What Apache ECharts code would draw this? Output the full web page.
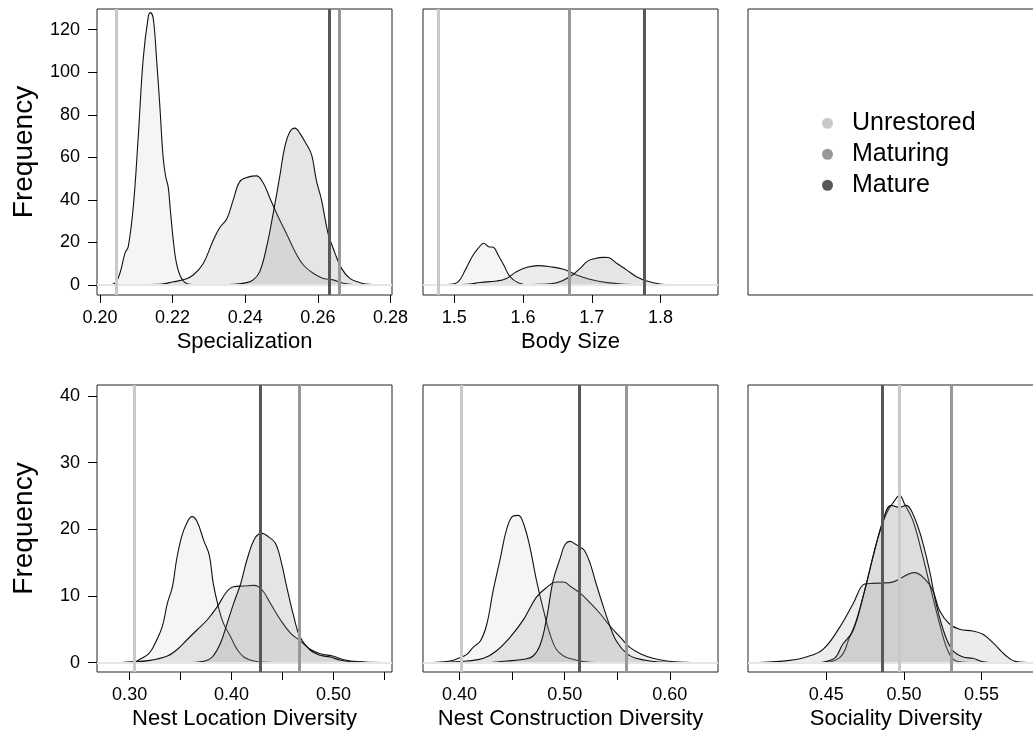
<!DOCTYPE html>
<html><head><meta charset="utf-8">
<script src="https://cdn.jsdelivr.net/npm/echarts@6/dist/echarts.min.js"></script>
<style>html,body{margin:0;padding:0;background:#fff}#c{width:1033px;height:738px}</style>
</head><body><div id="c"></div><script>
// ---------- data ----------
const groups = ['Unrestored', 'Maturing', 'Mature'];

// Specialization
const specUnrestored = [[0.2020,0],[0.2041,0.8],[0.2055,5.5],[0.2069,15],[0.2078,18],[0.2092,37],[0.2106,71],[0.2119,106],[0.2133,126],[0.2139,128],[0.2147,125],[0.2156,106],[0.2165,84],[0.2174,60],[0.2181,51],[0.2188,46],[0.2194,35],[0.2202,21],[0.2211,10],[0.2225,3],[0.2243,0.5],[0.2275,0.1],[0.2320,0],[0.2775,0]];
const specMaturing = [[0.2020,0],[0.2165,0.3],[0.2202,1.5],[0.2234,2.7],[0.2257,4.7],[0.2284,10],[0.2312,21],[0.2330,27],[0.2349,31],[0.2367,40],[0.2385,48.6],[0.2408,50.7],[0.2431,51.3],[0.2450,47.8],[0.2468,40.8],[0.2491,32],[0.2514,24],[0.2537,15.7],[0.2560,9.4],[0.2587,5.5],[0.2615,3.1],[0.2642,2.4],[0.2670,0.8],[0.2697,0.2],[0.2775,0]];
const specMature = [[0.2020,0],[0.2312,0],[0.2367,0.3],[0.2404,1.1],[0.2422,2.4],[0.2440,6.3],[0.2459,18],[0.2477,33.7],[0.2495,51],[0.2509,65],[0.2523,72],[0.2537,73.7],[0.2550,71.4],[0.2569,66],[0.2583,61],[0.2596,49],[0.2610,40],[0.2628,24.3],[0.2647,15],[0.2665,7.8],[0.2688,3.1],[0.2716,1.1],[0.2743,0.3],[0.2775,0]];
const specObserved = [0.2046, 0.2658, 0.2632];

// Body Size
const bodyUnrestored = [[1.470,0],[1.494,0.3],[1.506,1.6],[1.516,7],[1.526,13.3],[1.535,17.3],[1.543,19.6],[1.550,18],[1.557,17.7],[1.564,14],[1.572,9.4],[1.581,3.9],[1.593,1.1],[1.610,0],[1.867,0]];
const bodyMaturing = [[1.470,0],[1.518,0.3],[1.538,1.2],[1.562,1.9],[1.576,3.1],[1.591,6.3],[1.606,8.3],[1.622,9.1],[1.639,8.6],[1.659,7.4],[1.678,4.7],[1.697,2.7],[1.722,1.1],[1.751,0.3],[1.780,0],[1.867,0]];
const bodyMature = [[1.470,0],[1.567,0],[1.625,0.3],[1.649,1.1],[1.668,3.9],[1.683,7.8],[1.693,11],[1.702,12.2],[1.717,13],[1.724,12.9],[1.736,10.2],[1.751,7],[1.765,3.9],[1.780,1.9],[1.799,0.5],[1.818,0.1],[1.867,0]];
const bodyObserved = [1.4773, 1.667, 1.7758];

// Nest Location Diversity
const nlUnrestored = [[0.278,0],[0.304,0.1],[0.311,0.6],[0.319,1.4],[0.325,2.9],[0.332,5.4],[0.337,8.9],[0.342,11.4],[0.346,15.4],[0.351,18.9],[0.356,20.9],[0.361,21.9],[0.366,21.2],[0.373,18.2],[0.378,16.2],[0.382,11.9],[0.387,8.4],[0.392,5.9],[0.399,3.9],[0.405,2.1],[0.412,0.85],[0.422,0.25],[0.435,0.05],[0.450,0],[0.548,0]];
const nlMaturing = [[0.278,0],[0.301,0.1],[0.320,0.35],[0.337,1],[0.346,1.9],[0.356,3.4],[0.366,4.9],[0.376,6.4],[0.386,8.4],[0.395,10.6],[0.402,11.4],[0.412,11.5],[0.422,11.6],[0.430,10.9],[0.438,8.9],[0.448,6.4],[0.458,4.4],[0.467,3.3],[0.477,2],[0.487,1.35],[0.500,0.95],[0.510,0.45],[0.523,0.15],[0.548,0]];
const nlMature = [[0.278,0],[0.356,0],[0.373,0.2],[0.381,0.85],[0.389,2.9],[0.395,5.6],[0.402,8.9],[0.409,11.9],[0.415,15.4],[0.423,18.7],[0.430,19.4],[0.436,18.9],[0.443,17.9],[0.449,14.9],[0.454,11.4],[0.461,6.9],[0.467,3.9],[0.477,1.9],[0.487,1.1],[0.497,0.85],[0.507,0.35],[0.520,0.1],[0.548,0]];
const nlObserved = [0.3049, 0.4663, 0.4277];

// Nest Construction Diversity
const ncUnrestored = [[0.375,0],[0.391,0.25],[0.399,0.65],[0.407,1.25],[0.413,2.3],[0.420,3.3],[0.426,5.8],[0.432,10.8],[0.439,15.8],[0.445,20.1],[0.451,22],[0.456,22.1],[0.461,20.8],[0.467,17.3],[0.473,12.5],[0.480,7.8],[0.486,4.3],[0.492,2],[0.499,1],[0.508,0.5],[0.518,0.15],[0.530,0],[0.636,0]];
const ncMaturing = [[0.375,0],[0.391,0.1],[0.407,0.25],[0.423,0.65],[0.435,1.75],[0.448,3.8],[0.461,6.5],[0.473,9.8],[0.483,11.3],[0.492,12.1],[0.499,12.1],[0.505,11.5],[0.515,10.4],[0.524,9],[0.534,7.3],[0.543,5.5],[0.553,3.8],[0.562,2.3],[0.572,1.35],[0.584,0.65],[0.597,0.25],[0.616,0.05],[0.636,0]];
const ncMature = [[0.375,0],[0.423,0],[0.445,0.25],[0.461,0.5],[0.470,1],[0.477,2.8],[0.483,6.8],[0.489,12.3],[0.496,15.8],[0.500,17.6],[0.505,18.2],[0.510,17.8],[0.515,17.3],[0.519,16.8],[0.524,15],[0.530,11.8],[0.537,8.3],[0.543,5.5],[0.549,3.3],[0.559,1.35],[0.568,0.65],[0.581,0.25],[0.597,0.05],[0.636,0]];
const ncObserved = [0.4013, 0.5585, 0.5139];

// Sociality Diversity
const soUnrestored = [[0.4065,0],[0.445,0],[0.4586,0.75],[0.465,3.8],[0.4693,6.3],[0.4758,11.8],[0.4822,17.8],[0.4886,22.3],[0.494,24.3],[0.4972,25.1],[0.5004,23.8],[0.5058,21.3],[0.5112,16.8],[0.5165,11.8],[0.523,5.8],[0.5283,1.8],[0.5337,0.25],[0.545,0],[0.583,0]];
const soMaturing = [[0.4065,0],[0.4264,0.35],[0.4371,0.85],[0.4479,2.0],[0.4586,5.3],[0.4672,8.8],[0.4747,11.8],[0.4800,11.9],[0.4908,12.0],[0.5069,13.5],[0.5144,12.3],[0.5187,10.8],[0.5230,7.8],[0.5294,5.8],[0.5358,5.0],[0.5444,4.75],[0.5509,4.25],[0.5573,3.0],[0.5659,1.0],[0.5723,0.15],[0.5830,0]];
const soMature = [[0.4065,0],[0.440,0],[0.4543,0.5],[0.4607,2.8],[0.4672,4.8],[0.4736,9.8],[0.480,15.8],[0.4865,21.3],[0.4918,23.6],[0.4972,23.3],[0.5015,23.6],[0.5058,22.3],[0.5112,18.8],[0.5165,13.8],[0.5208,8.8],[0.5262,4.3],[0.5315,1.8],[0.538,0.85],[0.5444,0.65],[0.5509,0.15],[0.560,0],[0.583,0]];
const soObserved = [0.4971, 0.5307, 0.4860];

// tick labels
const specTicks = [0.20, 0.22, 0.24, 0.26, 0.28];
const bodyTicks = [1.5, 1.6, 1.7, 1.8];
const nlTicks = [0.30, 0.35, 0.40, 0.45, 0.50, 0.55];
const nlLabels = [0.30, 0.40, 0.50];
const ncTicks = [0.40, 0.45, 0.50, 0.55, 0.60];
const ncLabels = [0.40, 0.50, 0.60];
const soTicks = [0.45, 0.50, 0.55];
const topYTicks = [0, 20, 40, 60, 80, 100, 120];
const botYTicks = [0, 10, 20, 30, 40];

// ---------- styling ----------
const FONT = "'Liberation Sans', Arial, Helvetica, sans-serif";
const lineColors = ['#c9c9c9', '#989898', '#585858'];
const fillColors = ['rgba(185,185,185,0.2)', 'rgba(150,150,150,0.25)', 'rgba(140,140,140,0.32)'];

const panels = [
  {grid:{left:97, top:9, width:295, height:286}, x:[0.1992,0.2804], y:[-4.7,129.7], ticks:specTicks, labels:specTicks, dec:2, title:'Specialization', yTicks:topYTicks, curves:[specUnrestored,specMaturing,specMature], obs:specObserved},
  {grid:{left:423, top:9, width:295, height:286}, x:[1.4546,1.8835], y:[-4.7,129.7], ticks:bodyTicks, labels:bodyTicks, dec:1, title:'Body Size', yTicks:null, curves:[bodyUnrestored,bodyMaturing,bodyMature], obs:bodyObserved},
  {grid:{left:748, top:9, width:296, height:286}, empty:true},
  {grid:{left:97, top:385, width:295, height:287}, x:[0.268,0.5573], y:[-1.4,41.65], ticks:nlTicks, labels:nlLabels, dec:2, title:'Nest Location Diversity', yTicks:botYTicks, curves:[nlUnrestored,nlMaturing,nlMature], obs:nlObserved},
  {grid:{left:423, top:385, width:295, height:287}, x:[0.3653,0.6458], y:[-1.4,41.65], ticks:ncTicks, labels:ncLabels, dec:2, title:'Nest Construction Diversity', yTicks:null, curves:[ncUnrestored,ncMaturing,ncMature], obs:ncObserved},
  {grid:{left:748, top:385, width:296, height:287}, x:[0.3996,0.5902], y:[-1.4,41.65], ticks:soTicks, labels:soTicks, dec:2, title:'Sociality Diversity', yTicks:null, curves:[soUnrestored,soMaturing,soMature], obs:soObserved}
];

const grids = [], xAxes = [], yAxes = [], series = [];
panels.forEach((p, i) => {
  grids.push(Object.assign({show:true, borderColor:'#222', borderWidth:1, backgroundColor:'transparent', containLabel:false, outerBoundsMode:'none'}, p.grid));
  if (p.empty) {
    xAxes.push({gridIndex:i, type:'value', show:false, min:0, max:1});
    yAxes.push({gridIndex:i, type:'value', show:false, min:0, max:1});
    return;
  }
  xAxes.push({
    gridIndex:i, type:'value', min:p.x[0], max:p.x[1],
    name:p.title, nameLocation:'middle', nameGap:36,
    nameTextStyle:{fontSize:22, color:'#000', fontFamily:FONT},
    axisLine:{show:false, onZero:false},
    axisTick:{show:true, inside:false, length:8, lineStyle:{color:'#000', width:1}, customValues:p.ticks},
    axisLabel:{show:true, margin:14, fontSize:18, color:'#000', fontFamily:FONT, customValues:p.labels, formatter:(v)=>Number(v).toFixed(p.dec)},
    splitLine:{show:false}
  });
  if (p.yTicks) {
    yAxes.push({
      gridIndex:i, type:'value', min:p.y[0], max:p.y[1],
      name:'Frequency', nameLocation:'middle', nameGap:59,
      nameTextStyle:{fontSize:28, color:'#000', fontFamily:FONT},
      axisLine:{show:false, onZero:false},
      axisTick:{show:true, inside:false, length:9, lineStyle:{color:'#000', width:1}, customValues:p.yTicks},
      axisLabel:{show:true, margin:17, fontSize:18, color:'#000', fontFamily:FONT, customValues:p.yTicks, formatter:(v)=>String(Math.round(v))},
      splitLine:{show:false}
    });
  } else {
    yAxes.push({gridIndex:i, type:'value', min:p.y[0], max:p.y[1], show:false, splitLine:{show:false}});
  }
  p.curves.forEach((data, gi) => {
    const s = {
      type:'line', name:groups[gi], xAxisIndex:i, yAxisIndex:i, data:data,
      smooth:0.4, showSymbol:false, symbol:'none', silent:true,
      lineStyle:{color:'#111', width:1.1},
      itemStyle:{color:lineColors[gi]},
      areaStyle:{color:fillColors[gi]},
      z:2+gi
    };
    if (gi === 0) {
      s.markLine = {silent:true, precision:5, symbol:['none','none'], label:{show:false}, animation:false,
        data:[{yAxis:0, lineStyle:{color:'#e6e6e6', width:2, type:'solid'}}]};
    }
    if (gi === 2) {
      s.markLine = {silent:true, precision:5, symbol:['none','none'], label:{show:false}, animation:false,
        data:p.obs.map((v,k)=>({xAxis:v, lineStyle:{color:lineColors[k], width:3, type:'solid'}}))};
    }
    series.push(s);
  });
});

const chart = echarts.init(document.getElementById('c'), null, {renderer:'canvas'});
chart.setOption({
  animation:false,
  backgroundColor:'#fff',
  textStyle:{fontFamily:FONT},
  grid:grids, xAxis:xAxes, yAxis:yAxes, series:series,
  legend:{
    left:822, top:108, orient:'vertical', icon:'circle', itemWidth:39, itemHeight:11, itemGap:0.5, padding:0,
    selectedMode:false,
    textStyle:{fontSize:25, color:'#000', lineHeight:30.5, fontFamily:FONT},
    data:groups.map((g,k)=>({name:g, itemStyle:{color:lineColors[k], borderWidth:0}}))
  }
});
</script></body></html>
